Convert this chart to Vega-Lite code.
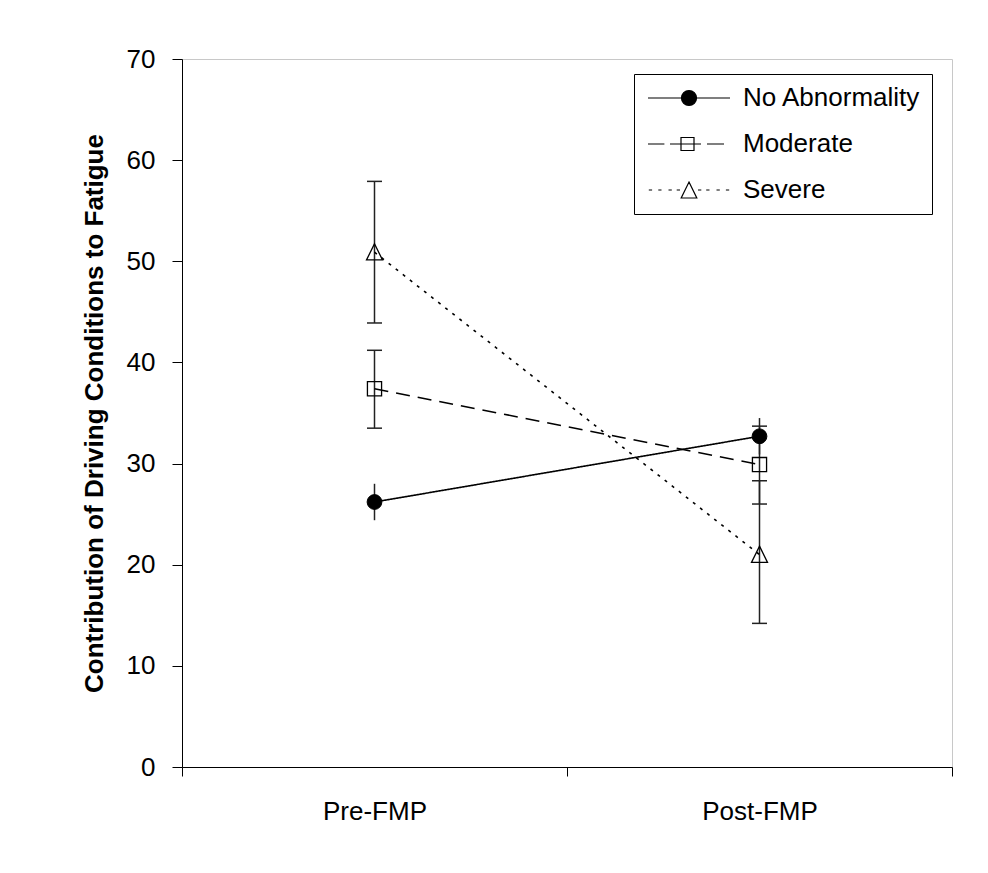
{
  "$schema": "https://vega.github.io/schema/vega-lite/v6.json",
  "autosize": {"type": "none"},
  "padding": {"left": 182, "top": 59, "right": 36, "bottom": 106},
  "width": 770,
  "height": 708,
  "background": "white",
  "config": {
    "font": "Liberation Sans",
    "view": {"stroke": "#c8c8c8", "strokeWidth": 1},
    "axis": {"grid": false, "domainColor": "black", "tickColor": "black", "labelColor": "black", "titleColor": "black", "labelFont": "Liberation Sans", "titleFont": "Liberation Sans", "labelFontSize": 26, "domainWidth": 1, "tickWidth": 1}
  },
  "data": {
    "values": [
      {"phase": "Pre-FMP", "group": "No Abnormality", "mean": 26.2, "lower": 24.4, "upper": 28.0},
      {"phase": "Post-FMP", "group": "No Abnormality", "mean": 32.7, "lower": 30.9, "upper": 34.5},
      {"phase": "Pre-FMP", "group": "Moderate", "mean": 37.4, "lower": 33.5, "upper": 41.2},
      {"phase": "Post-FMP", "group": "Moderate", "mean": 29.9, "lower": 26.0, "upper": 33.7},
      {"phase": "Pre-FMP", "group": "Severe", "mean": 50.9, "lower": 43.9, "upper": 57.9},
      {"phase": "Post-FMP", "group": "Severe", "mean": 21.0, "lower": 14.2, "upper": 28.3}
    ]
  },
  "encoding": {
    "x": {
      "field": "phase", "type": "nominal", "sort": ["Pre-FMP", "Post-FMP"],
      "scale": {"type": "band", "paddingInner": 0, "paddingOuter": 0},
      "axis": {"title": null, "labelAngle": 0, "tickBand": "extent", "tickSize": 9, "labelPadding": 22}
    }
  },
  "layer": [
    {
      "mark": {"type": "rule", "stroke": "#222222", "strokeWidth": 1.5},
      "encoding": {
        "y": {
          "field": "lower", "type": "quantitative",
          "scale": {"domain": [0, 70], "nice": false, "zero": true},
          "axis": {
            "values": [0, 10, 20, 30, 40, 50, 60, 70],
            "tickSize": 10, "labelPadding": 17,
            "title": "Contribution of Driving Conditions to Fatigue",
            "titleFontSize": 26, "titleFontWeight": "bold", "titlePadding": 19
          }
        },
        "y2": {"field": "upper"}
      }
    },
    {
      "transform": [{"filter": "datum.group !== 'No Abnormality'"}],
      "mark": {"type": "tick", "orient": "horizontal", "size": 15, "thickness": 1.5, "color": "#222222", "opacity": 1},
      "encoding": {"y": {"field": "lower", "type": "quantitative"}}
    },
    {
      "transform": [{"filter": "datum.group !== 'No Abnormality'"}],
      "mark": {"type": "tick", "orient": "horizontal", "size": 15, "thickness": 1.5, "color": "#222222", "opacity": 1},
      "encoding": {"y": {"field": "upper", "type": "quantitative"}}
    },
    {
      "mark": {"type": "line", "stroke": "black", "strokeWidth": 1.6},
      "encoding": {
        "y": {"field": "mean", "type": "quantitative"},
        "detail": {"field": "group"},
        "strokeDash": {
          "field": "group", "type": "nominal",
          "scale": {"domain": ["Moderate", "No Abnormality", "Severe"], "range": [[14, 8], [1, 0], [3, 6]]},
          "legend": null
        }
      }
    },
    {
      "transform": [{"filter": "datum.group === 'No Abnormality'"}],
      "mark": {"type": "point", "shape": "circle", "filled": true, "fill": "black", "stroke": "black", "strokeWidth": 1, "size": 218, "opacity": 1},
      "encoding": {"y": {"field": "mean", "type": "quantitative"}}
    },
    {
      "transform": [{"filter": "datum.group === 'Moderate'"}],
      "mark": {"type": "point", "shape": "square", "filled": false, "fill": "transparent", "stroke": "black", "strokeWidth": 1.3, "size": 200, "opacity": 1},
      "encoding": {"y": {"field": "mean", "type": "quantitative"}}
    },
    {
      "transform": [{"filter": "datum.group === 'Severe'"}],
      "mark": {"type": "point", "shape": "M0,-1.2L1.13,1.1L-1.13,1.1Z", "filled": false, "fill": "transparent", "stroke": "black", "strokeWidth": 1.3, "size": 200, "opacity": 1},
      "encoding": {"y": {"field": "mean", "type": "quantitative"}}
    },
    {
      "transform": [{"filter": "datum.mean < -100"}],
      "mark": {"type": "point", "filled": false, "strokeWidth": 1.2, "opacity": 1},
      "encoding": {
        "y": {"field": "mean", "type": "quantitative"},
        "shape": {
          "field": "group", "type": "nominal",
          "scale": {
            "domain": ["No Abnormality", "Moderate", "Severe"],
            "range": [
              "M-1,0L7.2,0M3.85,0A0.75,0.75,0,1,1,2.35,0A0.75,0.75,0,1,1,3.85,0Z",
              "M-1,0L0.64,0M1.2,0L4.3,0M4.9,0L6.6,0M2.3,-0.65L3.6,-0.65L3.6,0.65L2.3,0.65Z",
              "M-0.92,0L-0.59,0M0.03,0L0.35,0M1.05,0L1.38,0M1.87,0L2.2,0M4.0,0L4.33,0M4.82,0L5.15,0M5.85,0L6.18,0M6.79,0L7.12,0M3.1,-0.8L3.88,0.8L2.32,0.8Z"
            ]
          },
          "legend": {
            "title": null,
            "orient": "none", "legendX": 452, "legendY": 15,
            "direction": "vertical",
            "strokeColor": "black", "fillColor": "white",
            "padding": 11, "rowPadding": 20,
            "labelFont": "Liberation Sans", "labelFontSize": 26, "labelColor": "black", "labelLimit": 400,
            "labelOffset": 72, "symbolSize": 400, "symbolOffset": 0,
            "symbolOpacity": 1, "symbolStrokeWidth": 1.2, "symbolStrokeColor": "black"
          }
        },
        "fill": {
          "field": "group", "type": "nominal",
          "scale": {"domain": ["No Abnormality", "Moderate", "Severe"], "range": ["black", "transparent", "transparent"]},
          "legend": {
            "title": null,
            "orient": "none", "legendX": 452, "legendY": 15,
            "direction": "vertical",
            "strokeColor": "black", "fillColor": "white",
            "padding": 11, "rowPadding": 20,
            "labelFont": "Liberation Sans", "labelFontSize": 26, "labelColor": "black", "labelLimit": 400,
            "labelOffset": 72, "symbolSize": 400, "symbolOffset": 0,
            "symbolOpacity": 1, "symbolStrokeWidth": 1.2, "symbolStrokeColor": "black"
          }
        },
        "stroke": {
          "field": "group", "type": "nominal",
          "scale": {"domain": ["No Abnormality", "Moderate", "Severe"], "range": ["black", "black", "black"]},
          "legend": {
            "title": null,
            "orient": "none", "legendX": 452, "legendY": 15,
            "direction": "vertical",
            "strokeColor": "black", "fillColor": "white",
            "padding": 11, "rowPadding": 20,
            "labelFont": "Liberation Sans", "labelFontSize": 26, "labelColor": "black", "labelLimit": 400,
            "labelOffset": 72, "symbolSize": 400, "symbolOffset": 0,
            "symbolOpacity": 1, "symbolStrokeWidth": 1.2, "symbolStrokeColor": "black"
          }
        }
      }
    }
  ]
}
